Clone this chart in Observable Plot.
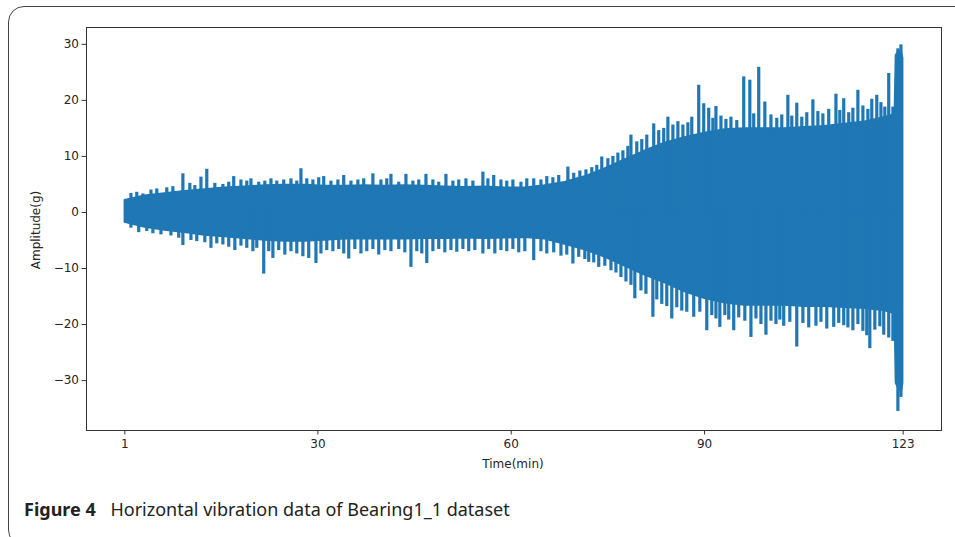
<!DOCTYPE html>
<html>
<head>
<meta charset="utf-8">
<script src="https://cdn.jsdelivr.net/npm/d3@7"></script>
<script src="https://cdn.jsdelivr.net/npm/@observablehq/plot@0.6"></script>
<style>
  html, body { margin: 0; padding: 0; background: #fff; }
  #wrap { position: relative; width: 955px; height: 537px; overflow: hidden; }
  #box { position: absolute; left: 8px; top: 6px; width: 1000px; height: 540px;
         border: 1.5px solid #444; border-radius: 16px; box-sizing: border-box; }
  #chart { position: absolute; left: 0; top: 0; }
  .lab { position: absolute; font-family: "DejaVu Sans", sans-serif; font-size: 12px; color: #262626; white-space: nowrap; }
  #ylab { left: 36px; top: 230px; transform: translate(-50%, -50%) rotate(-90deg); }
  #xlab { left: 513px; top: 464px; transform: translate(-50%, -50%); }
  #cap { position: absolute; left: 24px; top: 499px; font-family: "Noto Sans", sans-serif; font-size: 18px; color: #222; white-space: nowrap; line-height: 20px; }
  #cap b { font-weight: 700; margin-right: 10px; }
</style>
</head>
<body>
<div id="wrap">
  <div id="box"></div>
  <div id="chart"></div>
  <div class="lab" id="ylab">Amplitude(g)</div>
  <div class="lab" id="xlab">Time(min)</div>
  <div id="cap"><b>Figure 4</b> Horizontal vibration data of Bearing1_1 dataset</div>
</div>
<script>
// x = snapshot index (0 .. 2802), y = amplitude (g)
const tickPositions = [0, 695, 1391, 2087, 2802];
const tickLabels = ["1", "30", "60", "90", "123"];
const yTicks = [-30, -20, -10, 0, 10, 20, 30];

// body of the vibration band (envelope)
const bandT  = [0, 72, 144, 216, 288, 360, 432, 504, 576, 648, 720, 792, 864, 936, 1008, 1080, 1152, 1224, 1296, 1368, 1440, 1512, 1584, 1656, 1728, 1800, 1872, 1944, 2016, 2088, 2160, 2232, 2304, 2376, 2448, 2520, 2592, 2664, 2736, 2765, 2772, 2776, 2786, 2797, 2802];
const bandHi = [2.2, 3.0, 3.4, 3.8, 4.1, 4.4, 4.6, 4.8, 4.9, 4.9, 4.7, 4.7, 4.8, 4.7, 4.8, 4.7, 4.6, 4.5, 4.6, 4.4, 4.4, 4.8, 5.4, 6.4, 7.8, 9.4, 11.0, 12.4, 13.4, 14.2, 14.8, 15.0, 15.0, 15.0, 15.2, 15.4, 15.8, 16.2, 17.0, 17.4, 17.8, 28.0, 28.8, 28.6, 27.5];
const bandLo = [-1.8, -2.7, -3.2, -3.6, -4.1, -4.4, -4.7, -5.0, -5.2, -5.2, -5.0, -4.8, -4.8, -4.8, -4.8, -4.7, -4.7, -4.6, -4.7, -4.6, -4.5, -4.8, -5.7, -6.7, -8.0, -9.6, -11.2, -12.6, -14.2, -15.4, -16.2, -16.6, -16.6, -16.6, -16.8, -16.8, -17.0, -17.2, -17.6, -18.0, -18.4, -30.5, -31.5, -32.0, -30.5];

// upward peaks
const upT = [22, 43, 65, 94, 115, 151, 173, 209, 234, 252, 274, 295, 324, 353, 374, 392, 418, 439, 454, 482, 504, 526, 547, 572, 598, 619, 634, 655, 677, 698, 716, 742, 767, 788, 814, 839, 860, 893, 922, 943, 958, 986, 1012, 1037, 1058, 1084, 1109, 1130, 1156, 1181, 1202, 1228, 1253, 1289, 1307, 1328, 1354, 1375, 1397, 1426, 1447, 1472, 1498, 1519, 1541, 1562, 1595, 1616, 1638, 1660, 1681, 1699, 1717, 1739, 1757, 1775, 1793, 1811, 1822, 1843, 1861, 1879, 1904, 1922, 1940, 1955, 1973, 1991, 2009, 2027, 2041, 2066, 2084, 2102, 2117, 2128, 2146, 2164, 2182, 2203, 2228, 2250, 2264, 2282, 2304, 2326, 2347, 2365, 2387, 2401, 2419, 2437, 2455, 2477, 2495, 2513, 2534, 2560, 2574, 2588, 2606, 2621, 2639, 2657, 2675, 2689, 2707, 2722, 2736, 2750, 2765, 2783, 2794];
const upV = [3.4, 3.6, 3.3, 4.0, 4.2, 4.4, 4.6, 6.9, 5.2, 4.8, 6.3, 7.7, 5.2, 5.0, 5.4, 6.4, 5.8, 5.6, 6.0, 5.4, 5.6, 6.0, 5.6, 5.8, 6.0, 5.6, 7.8, 6.0, 5.8, 6.2, 6.4, 5.6, 5.8, 6.6, 5.6, 5.8, 6.0, 6.9, 5.8, 6.0, 6.8, 5.4, 6.8, 5.6, 5.8, 6.8, 5.8, 5.4, 6.8, 5.6, 5.8, 6.0, 5.6, 7.2, 6.0, 6.6, 5.8, 5.6, 5.8, 5.4, 6.0, 6.0, 5.8, 6.4, 6.2, 6.6, 8.1, 7.0, 7.4, 7.6, 8.0, 8.4, 9.9, 9.6, 10.0, 10.6, 11.0, 11.8, 13.8, 12.6, 13.0, 13.8, 15.8, 14.6, 15.0, 17.0, 15.6, 16.2, 15.6, 16.0, 17.0, 22.7, 19.4, 18.6, 16.8, 18.9, 17.2, 16.6, 17.0, 16.4, 24.2, 23.6, 17.6, 25.9, 19.7, 17.4, 16.8, 17.4, 20.9, 17.2, 19.5, 17.0, 17.8, 20.1, 18.0, 17.6, 18.4, 21.1, 18.2, 20.3, 17.8, 18.6, 21.8, 19.0, 18.4, 20.2, 20.9, 19.6, 18.8, 24.8, 18.8, 29.2, 29.9];

// downward peaks
const downT = [22, 50, 79, 101, 130, 166, 194, 209, 238, 259, 288, 310, 331, 353, 374, 396, 418, 439, 461, 475, 500, 518, 533, 554, 576, 598, 619, 641, 662, 688, 706, 727, 749, 770, 788, 806, 828, 850, 871, 893, 914, 936, 958, 986, 1008, 1030, 1051, 1069, 1087, 1109, 1130, 1152, 1174, 1195, 1217, 1238, 1260, 1289, 1310, 1332, 1354, 1375, 1397, 1418, 1440, 1472, 1498, 1519, 1544, 1570, 1591, 1613, 1634, 1656, 1670, 1688, 1706, 1728, 1750, 1768, 1786, 1804, 1822, 1836, 1858, 1876, 1901, 1915, 1933, 1951, 1969, 1987, 2005, 2023, 2048, 2070, 2095, 2113, 2128, 2142, 2160, 2174, 2192, 2210, 2232, 2254, 2272, 2290, 2308, 2326, 2344, 2358, 2372, 2394, 2419, 2441, 2462, 2488, 2506, 2527, 2552, 2570, 2588, 2603, 2621, 2639, 2657, 2671, 2682, 2700, 2718, 2732, 2750, 2765, 2783, 2794];
const downV = [-2.8, -3.6, -3.4, -3.8, -4.0, -4.2, -4.6, -5.9, -5.0, -5.2, -5.4, -6.4, -5.6, -5.8, -6.2, -6.8, -6.0, -6.4, -7.0, -6.4, -11.0, -7.0, -8.2, -6.8, -7.6, -7.0, -7.4, -7.9, -8.2, -9.1, -7.4, -6.8, -7.0, -6.6, -7.4, -8.3, -6.6, -7.4, -7.0, -6.6, -7.6, -6.8, -7.0, -6.6, -7.2, -9.8, -7.0, -7.4, -9.1, -7.0, -6.6, -7.2, -6.8, -7.1, -6.6, -7.0, -6.8, -7.4, -6.6, -7.4, -6.8, -7.0, -6.6, -7.2, -7.0, -8.6, -7.0, -7.4, -7.2, -7.8, -7.6, -9.2, -8.0, -8.4, -8.9, -9.0, -9.8, -9.6, -10.4, -10.8, -11.6, -12.4, -13.0, -15.4, -14.0, -14.6, -18.7, -15.6, -16.4, -16.8, -19.0, -17.0, -17.6, -17.8, -18.7, -17.8, -21.1, -18.4, -19.0, -20.5, -18.4, -19.2, -21.1, -18.8, -19.4, -22.3, -19.0, -20.0, -21.9, -19.4, -20.0, -19.2, -20.3, -19.6, -24.0, -19.8, -20.6, -20.3, -19.6, -20.8, -20.5, -19.8, -20.2, -20.6, -21.1, -20.0, -21.2, -22.0, -24.3, -21.0, -20.4, -21.9, -22.4, -23.0, -35.5, -33.0];

const band = bandT.map((t, i) => ({t, hi: bandHi[i], lo: bandLo[i]}));
const ups = upT.map((t, i) => ({t, v: upV[i]}));
const downs = downT.map((t, i) => ({t, v: downV[i]}));
const color = "#1f77b4";
const fmtY = d => d < 0 ? "\u2212" + Math.abs(d) : String(d);

const chart = Plot.plot({
  width: 955,
  height: 480,
  marginLeft: 86,
  marginRight: 14,
  marginTop: 27,
  marginBottom: 50,
  style: {fontFamily: "DejaVu Sans, sans-serif", fontSize: "12px", color: "#262626", background: "transparent"},
  x: {domain: [-138, 2940]},
  y: {domain: [-38.9, 33.0]},
  marks: [
    Plot.areaY(band, {x: "t", y1: "lo", y2: "hi", fill: color, stroke: color, strokeWidth: 1.5, curve: "linear"}),
    Plot.ruleX(ups, {x: "t", y1: () => 0, y2: "v", stroke: color, strokeWidth: 3.2}),
    Plot.ruleX(downs, {x: "t", y1: () => 0, y2: "v", stroke: color, strokeWidth: 3.2}),
    Plot.frame({stroke: "#333", strokeWidth: 1}),
    Plot.axisY({ticks: yTicks, tickFormat: fmtY, tickSize: 4.5, tickPadding: 3, label: null, stroke: "#333"}),
    Plot.axisX({ticks: tickPositions, tickFormat: (d, i) => tickLabels[i], tickSize: 4.5, tickPadding: 4, label: null, stroke: "#333"})
  ]
});
document.getElementById("chart").appendChild(chart);
</script>
</body>
</html>
